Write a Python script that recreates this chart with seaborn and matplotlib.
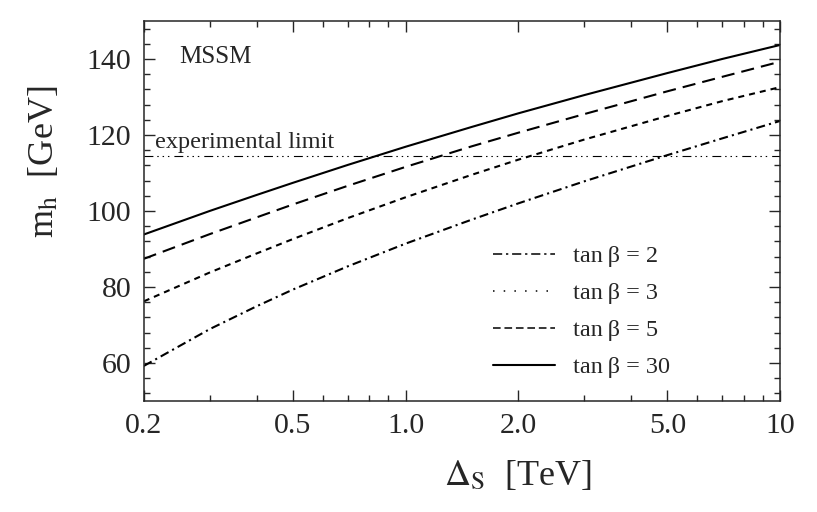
import numpy as np
import pandas as pd
import seaborn as sns
import matplotlib.pyplot as plt
from matplotlib.lines import Line2D
from matplotlib.ticker import LogLocator, FixedLocator, FixedFormatter, AutoMinorLocator, NullFormatter

# values (Delta_S in TeV, m_h in GeV)
delta_s = [0.2, 0.3, 0.4, 0.5, 0.7, 1.0, 1.5, 2.0, 3.0, 5.0, 7.0, 10.0]
mh_tb2 = [59.2, 68.9, 74.9, 79.3, 85.4, 91.4, 97.7, 102.0, 107.8, 114.7, 119.1, 123.7]
mh_tb3 = [76.2, 83.8, 88.8, 92.6, 98.1, 103.6, 109.5, 113.5, 118.8, 125.0, 128.9, 132.6]
mh_tb5 = [87.4, 93.9, 98.3, 101.7, 106.6, 111.6, 117.0, 120.6, 125.5, 131.5, 135.3, 139.3]
mh_tb30 = [93.8, 100.0, 104.2, 107.4, 112.1, 116.9, 122.1, 125.7, 130.5, 136.3, 140.0, 143.7]
exp_limit = 114.4

labels = ["tan\u2009β = 2", "tan\u2009β = 3", "tan\u2009β = 5", "tan\u2009β = 30"]
xticks = [0.2, 0.5, 1.0, 2.0, 5.0, 10.0]
xticklabels = ["0.2", "0.5", "1.0", "2.0", "5.0", "10"]
yticks = [60, 80, 100, 120, 140]

df = pd.concat([
    pd.DataFrame({"ds": delta_s, "mh": v, "tanb": lab})
    for v, lab in zip([mh_tb2, mh_tb3, mh_tb5, mh_tb30], labels)
])

sns.set_style("ticks")
plt.rcParams["font.family"] = ["Liberation Serif", "DejaVu Serif"]
plt.rcParams["mathtext.fontset"] = "stix"

fig = plt.figure(figsize=(8.17, 5.12), dpi=100)
ax = fig.add_axes([0.176, 0.217, 0.779, 0.742])

line_dashes = {
    labels[0]: (4.3, 2.0, 1.0, 2.0),
    labels[1]: (2.9, 2.4),
    labels[2]: (6.3, 3.4),
    labels[3]: "",
}
sns.lineplot(data=df, x="ds", y="mh", style="tanb", dashes=line_dashes,
             color="black", linewidth=1.5, legend=False, ax=ax)

# experimental limit: long dash + three dots
ax.axhline(exp_limit, color="black", linewidth=0.8,
           dashes=(8, 3.5, 1.3, 3.5, 1.3, 3.5, 1.3, 4.5))

ax.set_xscale("log")
ax.set_xlim(0.2, 10)
ax.set_ylim(50, 150)
ax.xaxis.set_major_locator(FixedLocator(xticks))
ax.xaxis.set_major_formatter(FixedFormatter(xticklabels))
ax.xaxis.set_minor_locator(LogLocator(subs=np.arange(2, 10)))
ax.xaxis.set_minor_formatter(NullFormatter())
ax.yaxis.set_major_locator(FixedLocator(yticks))
ax.yaxis.set_minor_locator(AutoMinorLocator(5))

ax.tick_params(which="both", direction="in", top=True, right=True,
               width=1.0, labelsize=21.5, pad=9)
ax.tick_params(which="major", length=8)
ax.tick_params(which="minor", length=4)
for s in ax.spines.values():
    s.set_linewidth(1.1)

ax.set_xlabel(r"$\Delta_\mathrm{S}$  [TeV]", fontsize=26, labelpad=8)
ax.xaxis.set_label_coords(0.588, -0.155)
ax.set_ylabel(r"m$_\mathrm{h}$  [GeV]", fontsize=26)
ax.yaxis.set_label_coords(-0.13, 0.63)

ax.text(0.2486, 139.0, "MSSM", fontsize=18, ha="left", va="baseline")
ax.text(0.2147, 116.6, "experimental limit", fontsize=17.5, ha="left", va="baseline")

# legend drawn like the reference: dash-dot, dotted, dashed, solid
handles = [
    Line2D([], [], color="black", linewidth=1.1, dashes=(6, 2.5, 1.5, 2.5)),
    Line2D([], [], color="black", linewidth=1.1, dashes=(1, 6)),
    Line2D([], [], color="black", linewidth=1.1, dashes=(5, 2.5)),
    Line2D([], [], color="black", linewidth=1.5),
]
ax.legend(handles, labels, loc="upper left", bbox_to_anchor=(0.549, 0.41),
          frameon=False, fontsize=17.5, handlelength=2.55, handletextpad=0.75,
          labelspacing=0.62, borderpad=0, borderaxespad=0)

fig.savefig("out.png", dpi=100)
